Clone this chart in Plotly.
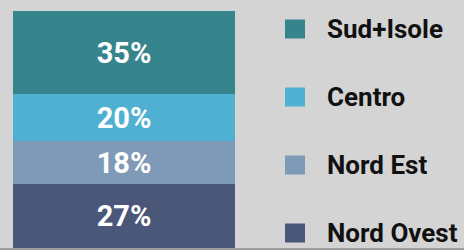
import plotly.graph_objects as go

# Data (bottom to top of stacked bar)
regions = ["Nord Ovest", "Nord Est", "Centro", "Sud+Isole"]
shares = [27, 18, 20, 35]
colors = ["#4a5779", "#7f9ab6", "#4fb0d1", "#36848c"]
labels = [f"{v}%" for v in shares]

FONT = "Roboto, 'DejaVu Sans', sans-serif"
W, H = 464, 250
fig = go.Figure()
for r, v, c, t in zip(regions, shares, colors, labels):
    fig.add_trace(go.Bar(
        x=["share"], y=[v], name=r, marker=dict(color=c, line=dict(width=0)),
        text=[t], textposition="inside", insidetextanchor="middle",
        textfont=dict(family=FONT, size=29, color="white", weight="bold"),
        showlegend=False, hoverinfo="skip",
    ))

# custom legend (top to bottom: Sud+Isole, Centro, Nord Est, Nord Ovest)
legend_items = list(zip(regions, colors))[::-1]
top_c, step = 29, 68
sq = 19
px0, px1, py0, py1 = 13, 235, 11, H - 2
for i, (name, c) in enumerate(legend_items):
    cy = top_c + i * step
    fig.add_shape(type="rect", xref="paper", yref="paper",
                  x0=(285 - px0) / (px1 - px0), x1=(285 + sq + 1 - px0) / (px1 - px0),
                  y0=(py1 - (cy + sq / 2)) / (py1 - py0), y1=(py1 - (cy - sq / 2)) / (py1 - py0),
                  fillcolor=c, line=dict(width=0))
    fig.add_annotation(xref="paper", yref="paper",
                       x=(325 - px0) / (px1 - px0), y=(py1 - cy) / (py1 - py0),
                       text=name, showarrow=False, xanchor="left", yanchor="middle",
                       font=dict(family=FONT, size=26, color="#111111", weight="bold"))

# thin darker strip along the bottom edge of the frame
fig.add_shape(type="rect", xref="paper", yref="paper",
              x0=-px0 / (px1 - px0), x1=(W - px0) / (px1 - px0),
              y0=-2 / (py1 - py0), y1=0, fillcolor="#9c9c9c", line=dict(width=0), layer="below")

fig.update_layout(
    width=W, height=H, barmode="stack", bargap=0,
    margin=dict(l=px0, r=W - px1, t=py0, b=H - py1),
    paper_bgcolor="#d4d4d4", plot_bgcolor="#d4d4d4",
    xaxis=dict(visible=False), yaxis=dict(visible=False, range=[0, 100]),
)
fig.write_html("out.html", config={"displayModeBar": False},
               post_script="document.body.style.margin='0';")
